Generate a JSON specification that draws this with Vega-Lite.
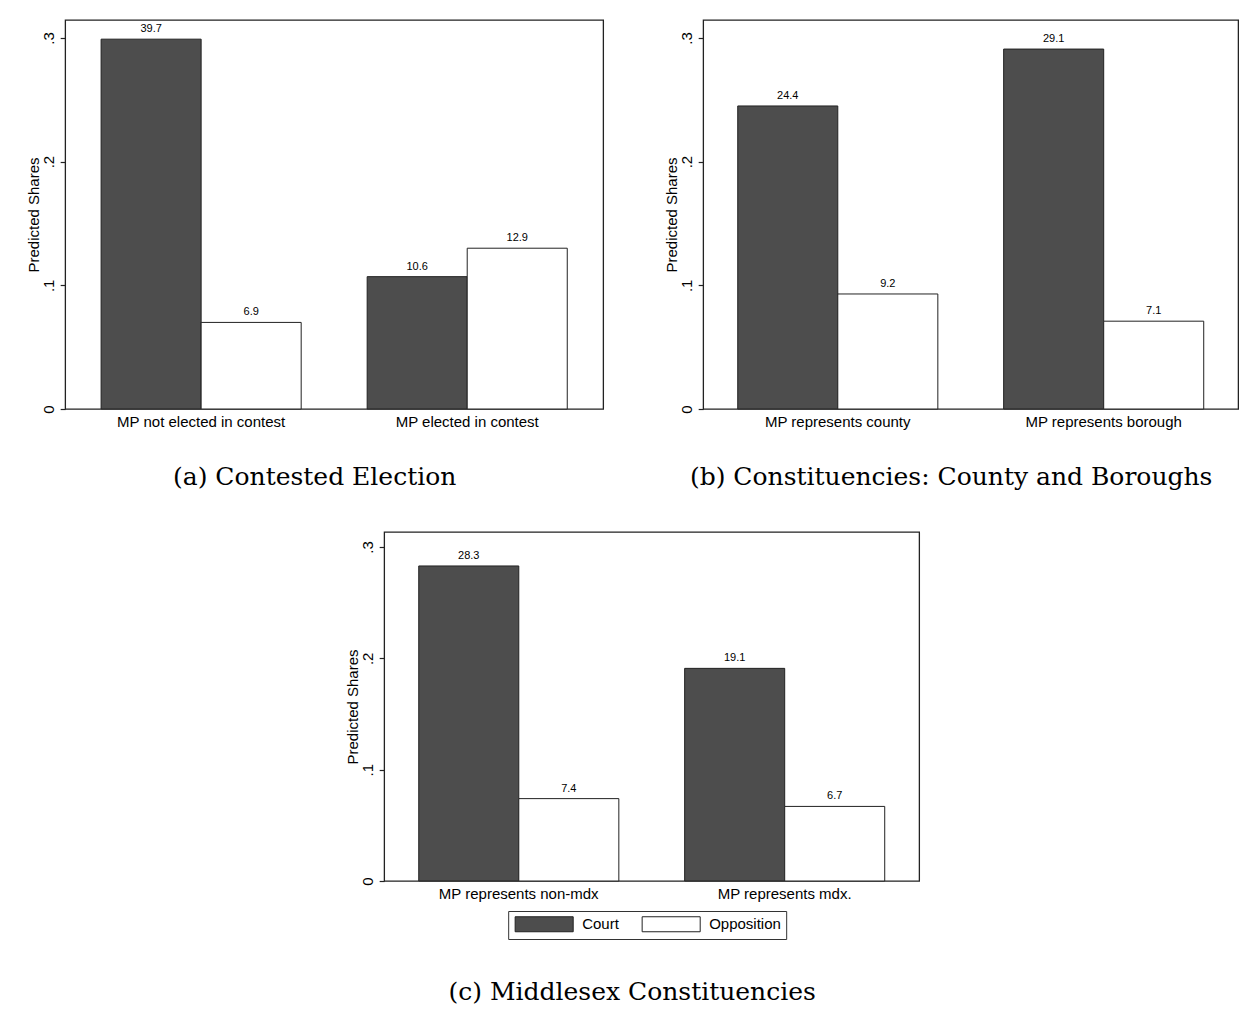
{
  "$schema": "https://vega.github.io/schema/vega-lite/v6.json",
  "background": "white",
  "padding": {"left": 25, "top": 19, "right": 0, "bottom": 0},
  "config": {
    "font": "Liberation Sans",
    "view": {"stroke": "#222", "strokeWidth": 1.3},
    "axisY": {"grid": false, "domain": false, "ticks": true, "tickSize": 5, "tickColor": "#222", "tickWidth": 1.2, "labelFontSize": 15, "labelColor": "black", "labelPadding": 4, "labelAngle": -90, "titleFontSize": 15, "titleFontWeight": "normal", "titleColor": "black", "titlePadding": 0},
    "axisX": {"grid": false, "domain": false, "ticks": false, "labelFontSize": 15, "labelColor": "black", "labelPadding": 5, "labelAngle": 0},
    "title": {"font": "DejaVu Serif", "fontSize": 25, "fontWeight": "normal", "color": "black", "orient": "bottom", "anchor": "middle", "frame": "bounds", "offset": 36}
  },
  "datasets": {
    "a": [
      {"group": "MP not elected in contest", "party": "Court", "share": 0.299, "label": "39.7"},
      {"group": "MP not elected in contest", "party": "Opposition", "share": 0.070, "label": "6.9"},
      {"group": "MP elected in contest", "party": "Court", "share": 0.107, "label": "10.6"},
      {"group": "MP elected in contest", "party": "Opposition", "share": 0.130, "label": "12.9"}
    ],
    "b": [
      {"group": "MP represents county", "party": "Court", "share": 0.245, "label": "24.4"},
      {"group": "MP represents county", "party": "Opposition", "share": 0.093, "label": "9.2"},
      {"group": "MP represents borough", "party": "Court", "share": 0.291, "label": "29.1"},
      {"group": "MP represents borough", "party": "Opposition", "share": 0.071, "label": "7.1"}
    ],
    "c": [
      {"group": "MP represents non-mdx", "party": "Court", "share": 0.283, "label": "28.3"},
      {"group": "MP represents non-mdx", "party": "Opposition", "share": 0.074, "label": "7.4"},
      {"group": "MP represents mdx.", "party": "Court", "share": 0.191, "label": "19.1"},
      {"group": "MP represents mdx.", "party": "Opposition", "share": 0.067, "label": "6.7"}
    ]
  },
  "resolve": {"scale": {"color": "independent"}, "legend": {"color": "independent"}},
  "spacing": 40,
  "center": true,
  "vconcat": [
    {
      "hconcat": [
        {
          "width": 538, "height": 389,
          "data": {"name": "a"},
          "title": {"text": "(a) Contested Election"},
          "encoding": {
            "x": {"field": "group", "type": "nominal", "sort": null, "scale": {"paddingInner": 0.248, "paddingOuter": 0.135}, "axis": {"title": null}},
            "xOffset": {"field": "party", "type": "nominal", "sort": ["Court", "Opposition"], "scale": {"paddingInner": 0, "paddingOuter": 0}},
            "y": {"field": "share", "type": "quantitative", "scale": {"domain": [0, 0.3145], "nice": false}, "axis": {"title": "Predicted Shares", "values": [0, 0.1, 0.2, 0.3], "labelExpr": "datum.value == 0 ? '0' : replace(format(datum.value, '.1f'), '0.', '.')"}}
          },
          "layer": [
            {"mark": {"type": "bar", "stroke": "#222", "strokeWidth": 1},
             "encoding": {"color": {"field": "party", "type": "nominal", "scale": {"domain": ["Court", "Opposition"], "range": ["#4d4d4d", "#ffffff"]}, "legend": null}}},
            {"mark": {"type": "text", "baseline": "alphabetic", "dy": -7, "fontSize": 11, "color": "black"},
             "encoding": {"text": {"field": "label"}}}
          ]
        },
        {
          "width": 535, "height": 389,
          "data": {"name": "b"},
          "title": {"text": "(b) Constituencies: County and Boroughs"},
          "encoding": {
            "x": {"field": "group", "type": "nominal", "sort": null, "scale": {"paddingInner": 0.248, "paddingOuter": 0.13}, "axis": {"title": null}},
            "xOffset": {"field": "party", "type": "nominal", "sort": ["Court", "Opposition"], "scale": {"paddingInner": 0, "paddingOuter": 0}},
            "y": {"field": "share", "type": "quantitative", "scale": {"domain": [0, 0.3145], "nice": false}, "axis": {"title": "Predicted Shares", "values": [0, 0.1, 0.2, 0.3], "labelExpr": "datum.value == 0 ? '0' : replace(format(datum.value, '.1f'), '0.', '.')"}}
          },
          "layer": [
            {"mark": {"type": "bar", "stroke": "#222", "strokeWidth": 1},
             "encoding": {"color": {"field": "party", "type": "nominal", "scale": {"domain": ["Court", "Opposition"], "range": ["#4d4d4d", "#ffffff"]}, "legend": null}}},
            {"mark": {"type": "text", "baseline": "alphabetic", "dy": -7, "fontSize": 11, "color": "black"},
             "encoding": {"text": {"field": "label"}}}
          ]
        }
      ],
      "spacing": 59,
      "resolve": {"scale": {"color": "independent"}, "legend": {"color": "independent"}}
    },
    {
      "width": 535, "height": 349,
      "data": {"name": "c"},
      "title": {"text": "(c) Middlesex Constituencies", "offset": 40},
      "encoding": {
        "x": {"field": "group", "type": "nominal", "sort": null, "scale": {"paddingInner": 0.248, "paddingOuter": 0.13}, "axis": {"title": null}},
        "xOffset": {"field": "party", "type": "nominal", "sort": ["Court", "Opposition"], "scale": {"paddingInner": 0, "paddingOuter": 0}},
        "y": {"field": "share", "type": "quantitative", "scale": {"domain": [0, 0.3135], "nice": false}, "axis": {"title": "Predicted Shares", "values": [0, 0.1, 0.2, 0.3], "labelExpr": "datum.value == 0 ? '0' : replace(format(datum.value, '.1f'), '0.', '.')"}}
      },
      "layer": [
        {"mark": {"type": "bar", "stroke": "#222", "strokeWidth": 1},
         "encoding": {"color": {"field": "party", "type": "nominal", "scale": {"domain": ["Court", "Opposition"], "range": ["#4d4d4d", "#ffffff"]},
           "legend": {"orient": "none", "legendX": 124, "legendY": 379, "direction": "horizontal", "title": null,
             "symbolType": "M-3.87,-1H3.87V1H-3.87Z", "symbolSize": 225, "symbolOffset": 23, "symbolStrokeColor": "#222", "symbolStrokeWidth": 1, "symbolOpacity": 1,
             "labelFontSize": 15, "labelColor": "black", "labelOffset": 30, "columnPadding": 20,
             "strokeColor": "#333", "fillColor": "white", "padding": 5}}}},
        {"mark": {"type": "text", "baseline": "alphabetic", "dy": -7, "fontSize": 11, "color": "black"},
         "encoding": {"text": {"field": "label"}}}
      ]
    }
  ]
}
